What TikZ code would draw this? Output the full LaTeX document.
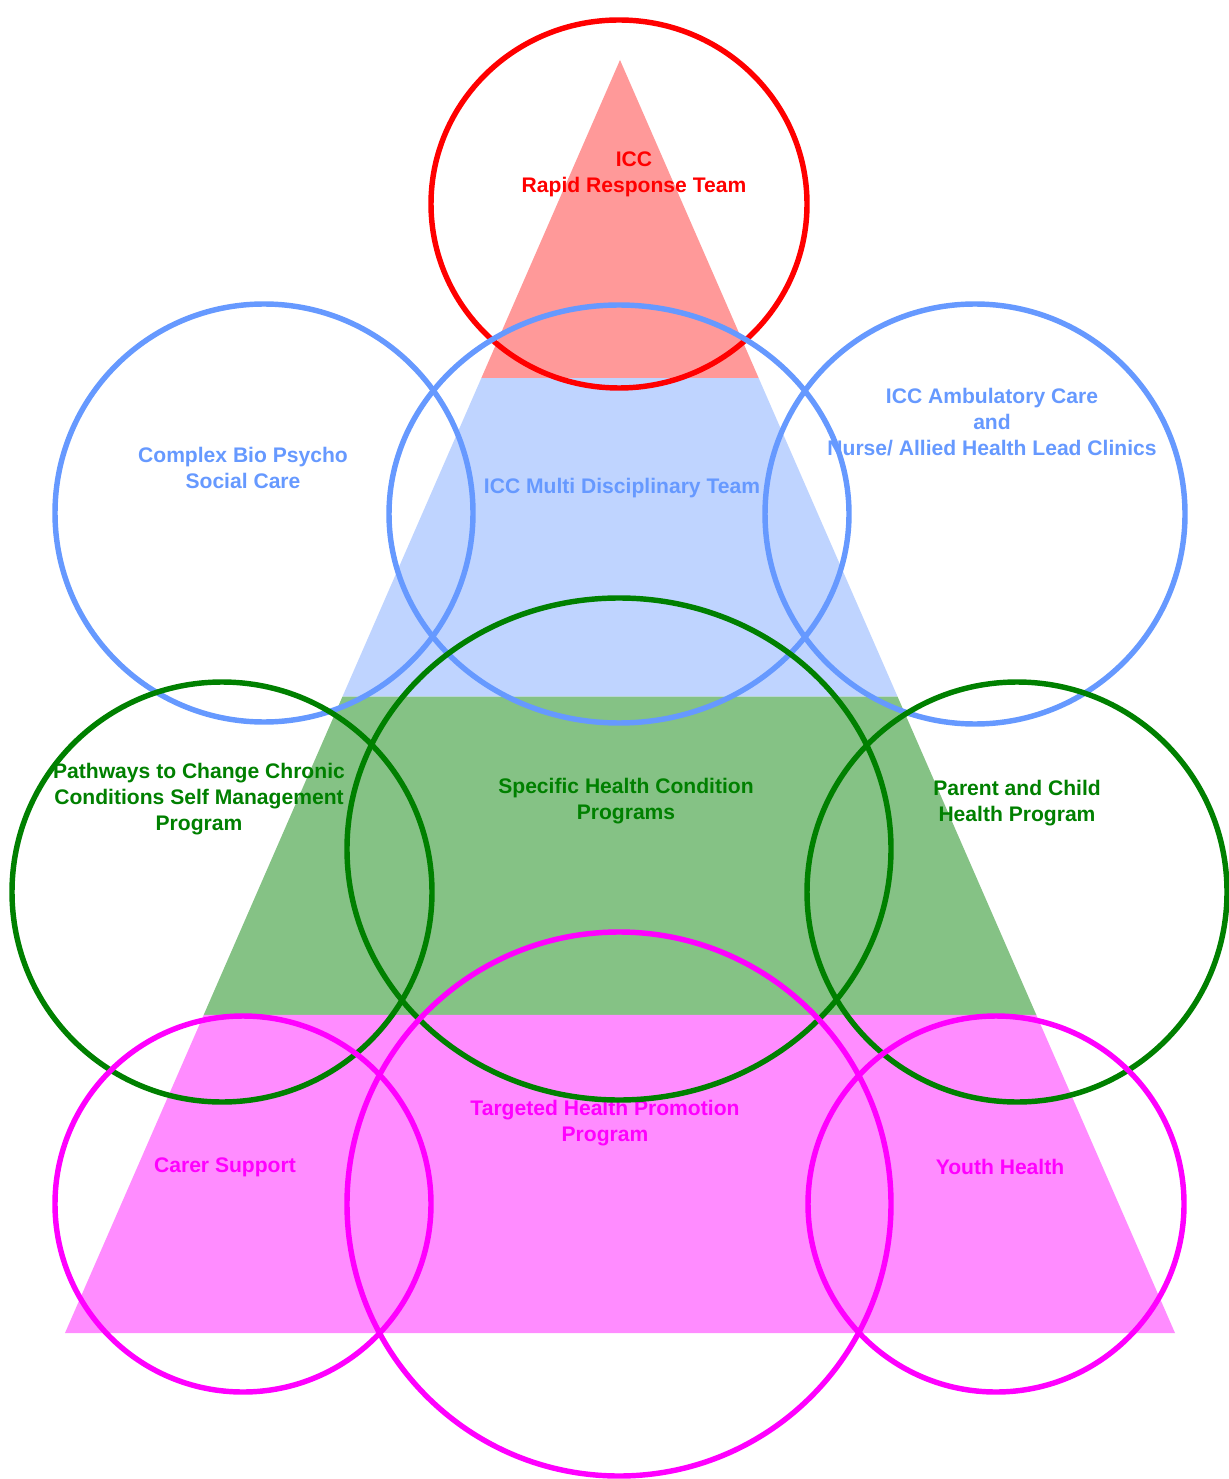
\documentclass[tikz,border=0pt]{standalone}
\usepackage{fontspec}
\setmainfont{Liberation Sans}
\usetikzlibrary{calc}
\definecolor{tierred}{RGB}{255,0,0}
\definecolor{tierblue}{RGB}{102,153,255}
\definecolor{tiergreen}{RGB}{0,128,0}
\definecolor{tiermag}{RGB}{255,0,255}
\tikzset{
    tierlabel/.style={font=\fontsize{12}{14.7}\selectfont\bfseries,align=center,inner sep=0pt},
    ring/.style={line width=3.1pt}
}

\begin{document}
\begin{tikzpicture}[x=0.02cm,y=-0.02cm]
        \useasboundingbox (0,0) rectangle (1229,1479);
        % pyramid corners
        \coordinate (apex) at (620,60);
        \coordinate (bl) at (65,1333);
        \coordinate (br) at (1175,1333);

        % bands
        \fill[tierred!40] (apex) -- ($(apex)!0.25!(br)$) -- ($(apex)!0.25!(bl)$) -- cycle;
        \fill[tierblue!42] ($(apex)!0.25!(bl)$) -- ($(apex)!0.25!(br)$) -- ($(apex)!0.5!(br)$) -- ($(apex)!0.5!(bl)$) -- cycle;
        \fill[tiergreen!48] ($(apex)!0.5!(bl)$) -- ($(apex)!0.5!(br)$) -- ($(apex)!0.75!(br)$) -- ($(apex)!0.75!(bl)$) -- cycle;
        \fill[tiermag!45] ($(apex)!0.75!(bl)$) -- ($(apex)!0.75!(br)$) -- (br) -- (bl) -- cycle;

        % labels
        \node[tierlabel,text=tierred] (rapid) at (634,174) {ICC\\Rapid Response Team};
        \node[tierlabel,text=tierblue] (complex) at (243,468) {Complex Bio Psycho\\Social Care};
        \node[tierlabel,text=tierblue] (mdt) at (622,488) {ICC Multi Disciplinary Team};
        \node[tierlabel,text=tierblue] (ambul) at (992,422) {ICC Ambulatory Care\\and\\Nurse/ Allied Health Lead Clinics};
        \node[tierlabel,text=tiergreen] (pathways) at (199,799) {Pathways to Change Chronic\\Conditions Self Management\\Program};
        \node[tierlabel,text=tiergreen] (specific) at (626,801) {Specific Health Condition\\Programs};
        \node[tierlabel,text=tiergreen] (parent) at (1017,803) {Parent and Child\\Health Program};
        \node[tierlabel,text=tiermag] (carer) at (225,1167) {Carer Support};
        \node[tierlabel,text=tiermag] (targeted) at (605,1123) {Targeted Health Promotion\\Program};
        \node[tierlabel,text=tiermag] (youth) at (1000,1167) {Youth Health};

        % rings
        \draw[ring,tierred] (619,204) ellipse (188 and 184); % top
        \draw[ring,tierblue] (264,513) circle (209);
        \draw[ring,tierblue] (619,514) ellipse (230 and 209);
        \draw[ring,tierblue] (975,514) circle (210);
        \draw[ring,tiergreen] (222,892) circle (210);
        \draw[ring,tiergreen] (619,849) ellipse (272 and 251);
        \draw[ring,tiergreen] (1017,892) circle (210);
        \draw[ring,tiermag] (243,1204) circle (188);
        \draw[ring,tiermag] (619,1204) circle (272);
        \draw[ring,tiermag] (996,1204) circle (188);
\end{tikzpicture}
\end{document}
